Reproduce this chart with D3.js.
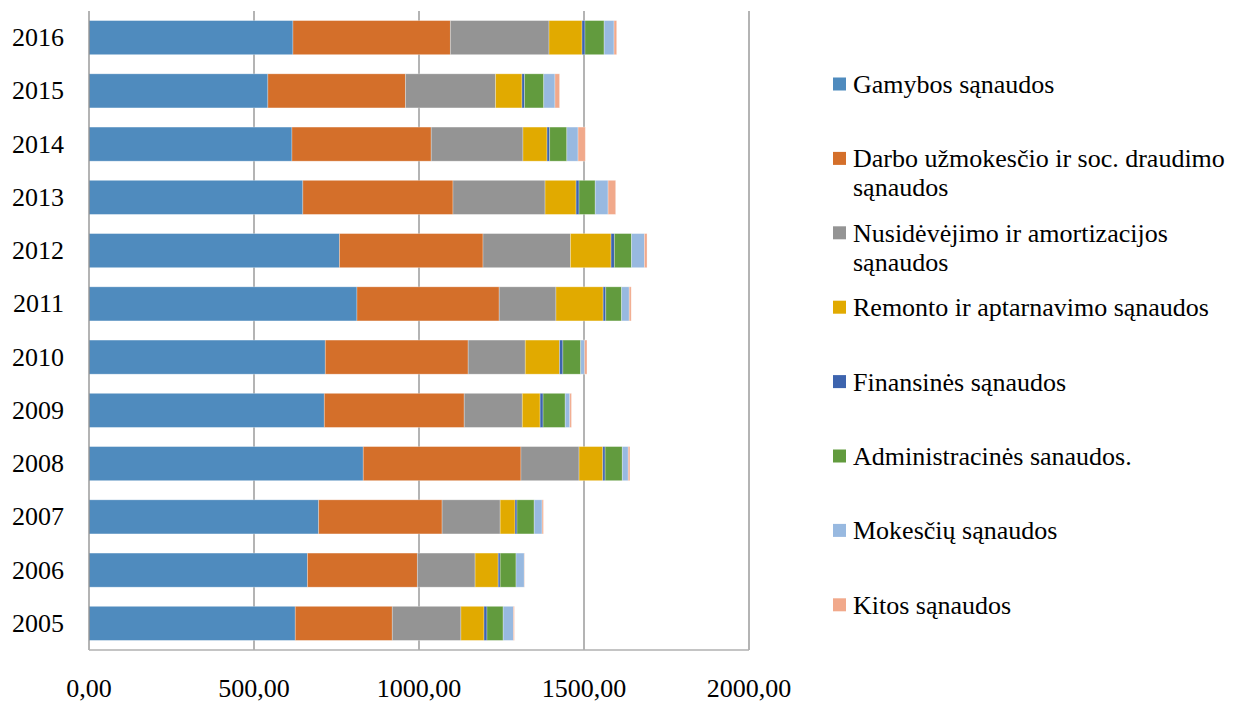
<!DOCTYPE html>
<html>
<head>
<meta charset="utf-8">
<script src="https://cdn.jsdelivr.net/npm/d3@7"></script>
<style>
  html, body { margin: 0; padding: 0; background: #fff; }
  svg { display: block; }
  text { font-family: "Liberation Serif", "Times New Roman", serif; fill: #000; }
</style>
</head>
<body>
<svg id="chart" width="1243" height="703"></svg>
<script>
// Years, top row first
const years = ["2016","2015","2014","2013","2012","2011","2010","2009","2008","2007","2006","2005"];

// Cost categories (stack order, left to right)
const seriesNames = [
  "Gamybos sąnaudos",
  "Darbo užmokesčio ir soc. draudimo sąnaudos",
  "Nusidėvėjimo ir amortizacijos sąnaudos",
  "Remonto ir aptarnavimo sąnaudos",
  "Finansinės sąnaudos",
  "Administracinės sanaudos.",
  "Mokesčių sąnaudos",
  "Kitos sąnaudos"
];
const seriesColors = ["#4F8BBE","#D46F2A","#949494","#E1AA00","#3D64AE","#629B3E","#98B9E0","#F1A98B"];

// Values per category, in the same order as years
const gamybos        = [618, 542, 615, 648, 759, 812, 716, 713, 831, 696, 662, 625];
const darboUzmokestis= [477, 417, 422, 455, 435, 431, 433, 424, 478, 374, 333, 294];
const nusidevejimas  = [299, 273, 278, 279, 265, 172, 173, 176, 176, 176, 175, 208];
const remontas       = [100,  80,  73,  94, 123, 143, 104,  54,  72,  45,  70,  70];
const finansines     = [  9,   8,   8,   9,  10,   8,  10,   9,   7,   6,   6,   9];
const administracines= [ 58,  58,  52,  49,  52,  48,  54,  67,  52,  52,  48,  49];
const mokesciai      = [ 30,  34,  34,  39,  39,  23,  12,  14,  18,  24,  25,  31];
const kitos          = [  8,  14,  22,  23,   8,   6,   7,   5,   5,   4,   1,   3];

const xTicks = [0, 500, 1000, 1500, 2000];
const xTickLabels = ["0,00", "500,00", "1000,00", "1500,00", "2000,00"];

const seriesValues = [gamybos, darboUzmokestis, nusidevejimas, remontas, finansines, administracines, mokesciai, kitos];

// Build row objects for d3.stack
const rows = years.map((y, i) => {
  const r = { year: y };
  seriesNames.forEach((n, k) => { r[n] = seriesValues[k][i]; });
  return r;
});

const svg = d3.select("#chart");
const plot = { left: 89, right: 749, top: 11, bottom: 650 };

const x = d3.scaleLinear().domain([0, 2000]).range([plot.left, plot.right]);
const y = d3.scaleBand().domain(years).range([plot.top, plot.bottom])
  .paddingInner(0.36).paddingOuter(0.18);

// Vertical gridlines
svg.append("g")
  .selectAll("line")
  .data(xTicks.slice(1))
  .join("line")
  .attr("x1", d => x(d)).attr("x2", d => x(d))
  .attr("y1", plot.top).attr("y2", plot.bottom)
  .attr("stroke", "#8c8c8c").attr("stroke-width", 1.3);

// Stacked bars
const stack = d3.stack().keys(seriesNames);
const layers = stack(rows);

svg.append("g")
  .selectAll("g")
  .data(layers)
  .join("g")
  .attr("fill", (d, i) => seriesColors[i])
  .selectAll("rect")
  .data(d => d)
  .join("rect")
  .attr("x", d => x(d[0]))
  .attr("y", d => y(d.data.year))
  .attr("width", d => Math.max(0, x(d[1]) - x(d[0])))
  .attr("height", y.bandwidth())
  .attr("stroke", "rgba(255,255,255,0.35)")
  .attr("stroke-width", 0.8);

// Left axis line and bottom border
svg.append("line")
  .attr("x1", plot.left).attr("x2", plot.left)
  .attr("y1", plot.top).attr("y2", plot.bottom)
  .attr("stroke", "#8c8c8c").attr("stroke-width", 1.3);
svg.append("line")
  .attr("x1", plot.left).attr("x2", plot.right)
  .attr("y1", plot.bottom).attr("y2", plot.bottom)
  .attr("stroke", "#b0b0b0").attr("stroke-width", 1.3);

// X tick labels
svg.append("g")
  .selectAll("text")
  .data(xTicks)
  .join("text")
  .attr("x", d => x(d))
  .attr("y", 688)
  .attr("text-anchor", "middle")
  .attr("dominant-baseline", "central")
  .style("font-size", "26px")
  .text((d, i) => xTickLabels[i]);

// Year labels
svg.append("g")
  .selectAll("text")
  .data(years)
  .join("text")
  .attr("x", 64)
  .attr("y", d => y(d) + y.bandwidth() / 2)
  .attr("text-anchor", "end")
  .attr("dominant-baseline", "central")
  .style("font-size", "26px")
  .text(d => d);

// Legend
const legend = svg.append("g");
const legendTop = 84, legendStep = 74.4, lineH = 29, maxW = 390;
seriesNames.forEach((name, i) => {
  const cy = legendTop + i * legendStep;
  legend.append("rect")
    .attr("x", 833).attr("y", cy - 6.5)
    .attr("width", 13).attr("height", 13)
    .attr("fill", seriesColors[i]);
  const t = legend.append("text")
    .attr("x", 853).attr("y", cy)
    .attr("dominant-baseline", "central")
    .style("font-size", "26px");
  // simple word wrap
  const words = name.split(" ");
  let line = [];
  let ts = t.append("tspan").attr("x", 853).attr("y", cy);
  let ln = 0;
  words.forEach(w => {
    line.push(w);
    ts.text(line.join(" "));
    if (ts.node().getComputedTextLength() > maxW && line.length > 1) {
      line.pop();
      ts.text(line.join(" "));
      line = [w];
      ln++;
      ts = t.append("tspan").attr("x", 853).attr("y", cy + ln * lineH).text(w);
    }
  });
});
</script>
</body>
</html>
